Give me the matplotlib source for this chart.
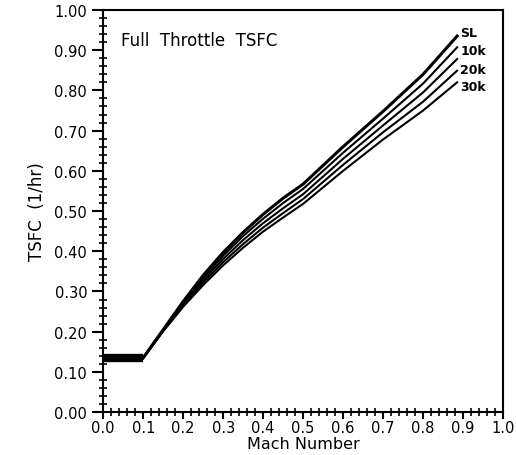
import numpy as np
import matplotlib
matplotlib.use('Agg')
import matplotlib.pyplot as plt
from matplotlib.ticker import MultipleLocator, FormatStrFormatter

# Mach numbers where the curves were read
mach = [0.1, 0.15, 0.2, 0.25, 0.3, 0.35, 0.4, 0.45, 0.5, 0.6, 0.7, 0.8, 0.885]

# TSFC (1/hr) per altitude line, top to bottom
tsfc_sl = [0.135, 0.205, 0.275, 0.340, 0.397, 0.447, 0.492, 0.532, 0.567, 0.660, 0.748, 0.840, 0.935]
tsfc_2 = [0.135, 0.204, 0.272, 0.334, 0.389, 0.438, 0.481, 0.520, 0.555, 0.645, 0.730, 0.817, 0.907]
tsfc_3 = [0.135, 0.203, 0.268, 0.328, 0.381, 0.428, 0.470, 0.507, 0.542, 0.630, 0.713, 0.795, 0.878]
tsfc_4 = [0.135, 0.202, 0.265, 0.322, 0.373, 0.418, 0.459, 0.495, 0.530, 0.615, 0.696, 0.772, 0.849]
tsfc_5 = [0.135, 0.201, 0.262, 0.316, 0.365, 0.409, 0.449, 0.484, 0.518, 0.600, 0.678, 0.750, 0.820]

# flat idle part
idle_mach = [0.0, 0.1]
idle_tsfc = [0.135, 0.135]

# line labels
etiquetas = ['SL', '10k', '20k', '30k']
etiq_y = [0.945, 0.900, 0.853, 0.810]

fig = plt.figure(figsize=(5.16, 4.56), dpi=100)
ax = fig.add_axes([0.2, 0.094, 0.775, 0.882])

ax.plot(idle_mach, idle_tsfc, color='black', lw=6, solid_capstyle='butt')
larguras = [2.2, 1.5, 1.5, 1.5, 1.5]
for serie, lw in zip([tsfc_sl, tsfc_2, tsfc_3, tsfc_4, tsfc_5], larguras):
    ax.plot(mach, serie, color='black', lw=lw)

for txt, yy in zip(etiquetas, etiq_y):
    ax.text(0.893, yy, txt, fontsize=9, fontweight='bold', va='center', ha='left')

ax.text(0.045, 0.925, 'Full  Throttle  TSFC', fontsize=12, va='center', ha='left')

ax.set_xlim(0, 1.0)
ax.set_ylim(0, 1.0)
ax.xaxis.set_major_locator(MultipleLocator(0.1))
ax.xaxis.set_minor_locator(MultipleLocator(0.02))
ax.yaxis.set_major_locator(MultipleLocator(0.1))
ax.yaxis.set_minor_locator(MultipleLocator(0.02))
ax.xaxis.set_major_formatter(FormatStrFormatter('%.1f'))
ax.yaxis.set_major_formatter(FormatStrFormatter('%.2f'))

ax.tick_params(which='major', direction='out', length=8, width=1.5, labelsize=10.5)
ax.tick_params(axis='x', which='major', length=5, pad=1)
ax.tick_params(which='minor', direction='inout', length=6, width=1.2)
ax.tick_params(top=False, right=False)
for s in ax.spines.values():
    s.set_linewidth(1.5)

ax.set_xlabel('Mach Number', fontsize=11.5, labelpad=0.5)
ax.set_ylabel('TSFC  (1/hr)', fontsize=12, labelpad=6)

fig.savefig('out.png', dpi=100)
